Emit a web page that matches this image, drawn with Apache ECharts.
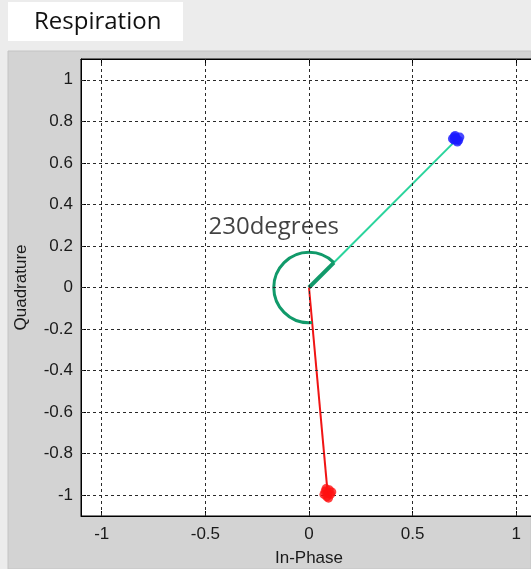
<!DOCTYPE html>
<html>
<head>
<meta charset="utf-8">
<script src="https://cdn.jsdelivr.net/npm/echarts@6/dist/echarts.min.js"></script>
<style>
html,body{margin:0;padding:0;background:#ececec;}
#chart{width:531px;height:569px;}
</style>
</head>
<body>
<div id="chart"></div>
<script>
const titleText = 'Respiration';
const xName = 'In-Phase';
const yName = 'Quadrature';
const xTicks = [-1, -0.5, 0, 0.5, 1];
const yTicks = [-1, -0.8, -0.6, -0.4, -0.2, 0, 0.2, 0.4, 0.6, 0.8, 1];
const axisMin = -1.1, axisMax = 1.1;
const bluePoints = [[0.71,0.72],[0.70,0.71],[0.722,0.708],[0.705,0.732],[0.716,0.70],[0.728,0.724],[0.692,0.716],[0.71,0.71],[0.70,0.726]];
const redPoints = [[0.09,-0.99],[0.078,-0.98],[0.104,-0.996],[0.086,-1.008],[0.098,-0.974],[0.072,-0.996],[0.094,-1.014],[0.11,-0.984],[0.082,-0.968]];
const bluePhasor = [[0,0],[0.70,0.70]];
const redPhasor = [[0,0],[0.09,-0.99]];
const arcCenter = [0,0];
const arcRadius = 0.17;
const arcStartDeg = 45;
const arcSweepDeg = 230;
const angleText = '230degrees';
const angleTextPos = [-0.17, 0.29];

const chart = echarts.init(document.getElementById('chart'));
const gridLeft = 81, gridTop = 59, gridW = 456, gridH = 457;
const labelFont = '"Liberation Sans", Arial, sans-serif';

const gridLines = xTicks.map(v => ({xAxis: v})).concat(yTicks.map(v => ({yAxis: v})));

chart.setOption({
  backgroundColor: '#ececec',
  animation: false,
  graphic: [
    {type:'rect', z:-10, shape:{x:8, y:51, width:523, height:518}, style:{fill:'#d3d3d3', stroke:'#c4c4c4', lineWidth:1}},
    {type:'rect', z:-10, shape:{x:8, y:2, width:175, height:39}, style:{fill:'#ffffff'}},
    {type:'text', z:10, left:34, top:10, style:{text:titleText, font:'24px "Open Sans", "Noto Sans", sans-serif', fill:'#111'}}
  ],
  grid: {left: gridLeft, top: gridTop, width: gridW, height: gridH, outerBoundsMode: 'none', containLabel: false,
    show: true, backgroundColor: '#ffffff', borderColor: '#000', borderWidth: 1},
  xAxis: [{
    type: 'value', min: axisMin, max: axisMax, position: 'bottom',
    name: xName, nameLocation: 'middle', nameGap: 34,
    nameTextStyle: {fontFamily: labelFont, fontSize: 17, color: '#1a1a1a'},
    axisLine: {show: true, onZero: false, lineStyle: {color: '#000'}},
    axisTick: {show: true, inside: true, length: 5, customValues: xTicks, lineStyle: {color: '#000'}},
    axisLabel: {customValues: xTicks, fontFamily: labelFont, fontSize: 17, color: '#1a1a1a', margin: 10},
    splitLine: {show: false}
  }, {
    type: 'value', min: axisMin, max: axisMax, position: 'top',
    axisLine: {show: true, onZero: false, lineStyle: {color: '#000'}},
    axisTick: {show: true, inside: true, length: 5, customValues: xTicks, lineStyle: {color: '#000'}},
    axisLabel: {show: false},
    splitLine: {show: false}
  }],
  yAxis: [{
    type: 'value', min: axisMin, max: axisMax,
    name: yName, nameLocation: 'middle', nameGap: 51, nameRotate: 90,
    nameTextStyle: {fontFamily: labelFont, fontSize: 17, color: '#1a1a1a'},
    axisLine: {show: true, onZero: false, lineStyle: {color: '#000'}},
    axisTick: {show: true, inside: true, length: 5, customValues: yTicks, lineStyle: {color: '#000'}},
    axisLabel: {customValues: yTicks, fontFamily: labelFont, fontSize: 17, color: '#1a1a1a', margin: 8},
    splitLine: {show: false}
  }],
  series: [
    {
      type: 'line', data: [], silent: true,
      markLine: {silent: true, symbol: ['none','none'], label: {show: false},
        lineStyle: {type: [3,3], color: '#2a2a2a', width: 1}, data: gridLines, animation: false}
    },
    {type: 'line', data: bluePhasor, symbol: 'none', lineStyle: {color: '#2ad49c', width: 2}, z: 3},
    {type: 'line', data: redPhasor, symbol: 'none', lineStyle: {color: '#f01414', width: 2}, z: 3},
    {
      type: 'custom', z: 4, data: [arcCenter],
      renderItem: function (params, api) {
        const c = api.coord([api.value(0), api.value(1)]);
        const r = api.size([arcRadius, 0])[0];
        const s = -arcStartDeg * Math.PI / 180;
        const e = -(arcStartDeg + arcSweepDeg) * Math.PI / 180;
        return {type: 'group', children: [
          {type: 'arc', shape: {cx: c[0], cy: c[1], r: r, startAngle: s, endAngle: e, clockwise: false},
           style: {stroke: '#119a6a', lineWidth: 3, fill: null}},
          {type: 'line', shape: {x1: c[0], y1: c[1], x2: c[0] + r * Math.cos(s), y2: c[1] + r * Math.sin(s)},
           style: {stroke: '#119a6a', lineWidth: 4}}
        ]};
      }
    },
    {type: 'scatter', data: bluePoints, symbol: 'circle', symbolSize: 9, itemStyle: {color: '#1a1aff'}, z: 5},
    {type: 'scatter', data: redPoints, symbol: 'circle', symbolSize: 9, itemStyle: {color: '#ff1010'}, z: 5},
    {
      type: 'scatter', data: [angleTextPos], symbolSize: 0, z: 6,
      label: {show: true, position: 'inside', formatter: angleText,
        fontFamily: '"Open Sans", "Noto Sans", sans-serif', fontSize: 24, color: '#111'}
    }
  ]
});
</script>
</body>
</html>
